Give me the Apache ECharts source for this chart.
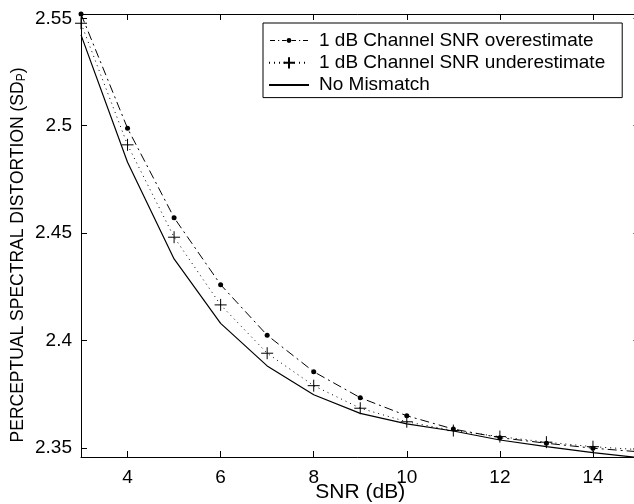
<!DOCTYPE html>
<html>
<head>
<meta charset="utf-8">
<script src="https://cdn.jsdelivr.net/npm/echarts@6/dist/echarts.min.js"></script>
<style>html,body{margin:0;padding:0;background:#fff;}#c{width:634px;height:504px;}</style>
</head>
<body>
<div id="c"></div>
<script>
const snr = [3, 4, 5, 6, 7, 8, 9, 10, 11, 12, 13, 14, 15];
const overestimate = [2.552, 2.4988, 2.4572, 2.426, 2.4025, 2.3855, 2.3734, 2.365, 2.3588, 2.3548, 2.3522, 2.3499, 2.3482];
const underestimate = [2.5477, 2.4911, 2.4481, 2.4166, 2.3941, 2.379, 2.3685, 2.3622, 2.3581, 2.3553, 2.3527, 2.3506, 2.3492];
const noMismatch = [2.5423, 2.483, 2.438, 2.408, 2.3882, 2.3748, 2.3661, 2.3612, 2.3579, 2.3537, 2.3506, 2.3478, 2.3455];
const xTicks = [4, 6, 8, 10, 12, 14];
const yTicks = [2.35, 2.4, 2.45, 2.5, 2.55];
const seriesNames = ['1 dB Channel SNR overestimate', '1 dB Channel SNR underestimate', 'No Mismatch'];
const xTitle = 'SNR (dB)';
const yTitle = 'PERCEPTUAL SPECTRAL DISTORTION (SD{s|P})';

const FONT = 'Liberation Sans';
const pair = (ys) => snr.map((x, i) => [x, ys[i]]);
const plusPath = 'path://M0,6L12,6M6,0L6,12';
const dashDotIcon = 'path://M0,0M40,14' +
  'M1,6.5h5v1h-5Z M9,6.5h1.2v1h-1.2Z M13,6.5h4.4v1h-4.4Z' +
  'M17.6,7a2.4,2.4 0 1,0 4.8,0a2.4,2.4 0 1,0 -4.8,0Z' +
  'M22.6,6.5h4.4v1h-4.4Z M30,6.5h1.2v1h-1.2Z M34,6.5h5v1h-5Z';

const chart = echarts.init(document.getElementById('c'), null, {renderer: 'canvas'});
const axisCommon = {
  axisLine: {show: true, onZero: false, lineStyle: {color: '#000', width: 1}},
  splitLine: {show: false},
};
chart.setOption({
  backgroundColor: '#fff',
  animation: false,
  grid: {left: 81, right: -5.5, top: 14, bottom: 47, outerBoundsMode: 'none', containLabel: false},
  graphic: [{
    type: 'text', x: 18, y: 255, rotation: Math.PI / 2, silent: true,
    style: {
      text: yTitle, align: 'center', verticalAlign: 'middle',
      fontFamily: FONT, fontSize: 17.5, fill: '#000',
      rich: {s: {fontFamily: FONT, fontSize: 12, fill: '#000', verticalAlign: 'bottom', padding: [8, 0, 0, 0]}}
    }
  }],
  legend: {
    orient: 'vertical',
    left: 263, top: 23,
    padding: [8, 17, 3, 5],
    borderColor: '#000', borderWidth: 1,
    backgroundColor: '#fff',
    itemWidth: 40, itemHeight: 14, itemGap: 3.3,
    textStyle: {fontFamily: FONT, fontSize: 19, color: '#000', lineHeight: 19, padding: [0, 0, 0, 5]},
    data: [
      {name: seriesNames[0], icon: dashDotIcon},
      {name: seriesNames[1]},
      {name: seriesNames[2], itemStyle: {opacity: 0}}
    ]
  },
  xAxis: [{
    type: 'value', min: 3, max: 15, position: 'bottom',
    ...axisCommon,
    axisTick: {show: true, inside: true, length: 6, customValues: xTicks, lineStyle: {color: '#000'}},
    axisLabel: {show: true, margin: 11, customValues: xTicks, fontFamily: FONT, fontSize: 19, color: '#000'},
    name: xTitle, nameLocation: 'middle', nameGap: 25, nameMoveOverlap: false,
    nameTextStyle: {fontFamily: FONT, fontSize: 21, color: '#000'}
  }, {
    type: 'value', min: 3, max: 15, position: 'top',
    ...axisCommon,
    axisTick: {show: true, inside: true, length: 6, customValues: xTicks, lineStyle: {color: '#000'}},
    axisLabel: {show: false}
  }],
  yAxis: [{
    type: 'value', min: 2.3458, max: 2.552, position: 'left',
    ...axisCommon,
    axisTick: {show: true, inside: true, length: 6, customValues: yTicks, lineStyle: {color: '#000'}},
    axisLabel: {show: true, margin: 9, customValues: yTicks, fontFamily: FONT, fontSize: 19, color: '#000',
      formatter: v => String(+v.toFixed(2))}
  }, {
    type: 'value', min: 2.3458, max: 2.552, position: 'right',
    ...axisCommon,
    axisTick: {show: true, inside: true, length: 6, customValues: yTicks, lineStyle: {color: '#000'}},
    axisLabel: {show: false}
  }],
  series: [{
    name: seriesNames[0], type: 'line', data: pair(overestimate),
    symbol: 'circle', symbolSize: 5, showAllSymbol: true,
    itemStyle: {color: '#000'},
    lineStyle: {color: '#000', width: 1, type: [9, 4, 2, 4]}
  }, {
    name: seriesNames[1], type: 'line', data: pair(underestimate),
    symbol: plusPath, symbolSize: 12, showAllSymbol: true,
    itemStyle: {color: 'rgba(0,0,0,0)', borderColor: '#000', borderWidth: 1},
    lineStyle: {color: '#000', width: 1, type: [1, 4]}
  }, {
    name: seriesNames[2], type: 'line', data: pair(noMismatch),
    symbol: 'none',
    itemStyle: {color: '#000'},
    lineStyle: {color: '#000', width: 1.2, type: 'solid'}
  }]
});
</script>
</body>
</html>
